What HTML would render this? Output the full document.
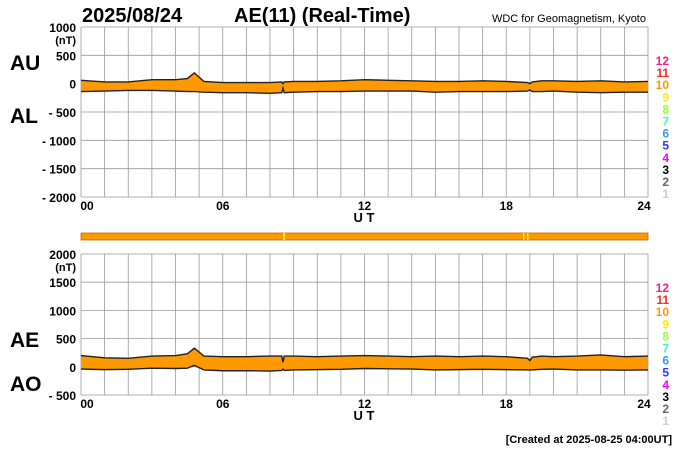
<!DOCTYPE html>
<html><head><meta charset="utf-8">
<style>
body{margin:0;background:#fff;}
svg text{font-family:"Liberation Sans",sans-serif;}
</style></head>
<body>
<svg id="c" width="700" height="450" xmlns="http://www.w3.org/2000/svg">
<text x="82" y="22" font-size="20" font-weight="bold">2025/08/24</text>
<text x="234" y="22" font-size="20" font-weight="bold">AE(11) (Real-Time)</text>
<text x="646" y="22" font-size="11" text-anchor="end">WDC for Geomagnetism, Kyoto</text>
<text x="10" y="70" font-size="21" font-weight="bold">AU</text>
<text x="10" y="123" font-size="21" font-weight="bold">AL</text>
<text x="10" y="347" font-size="21" font-weight="bold">AE</text>
<text x="10" y="391" font-size="21" font-weight="bold">AO</text>
<text x="364" y="222" font-size="13" font-weight="bold" text-anchor="middle">U T</text>
<text x="364" y="420" font-size="13" font-weight="bold" text-anchor="middle">U T</text>
<text x="672" y="443" font-size="11" font-weight="bold" text-anchor="end">[Created at 2025-08-25 04:00UT]</text>
<rect x="81" y="233" width="567" height="7" fill="#ff9900" stroke="#b87000" stroke-width="0.8"/>
<rect x="283" y="233" width="2" height="7" fill="#ffee00"/>
<rect x="523" y="233" width="1.5" height="7" fill="#ffee00"/>
<rect x="527" y="233" width="1.5" height="7" fill="#ffee00"/>
</svg>
<script>
const hours=[0,1,2,3,4,4.5,4.8,5.2,6,7,8,8.5,8.55,8.6,9,10,11,12,13,14,15,16,17,18,18.9,19,19.1,19.5,20,21,22,23,24];
const auValues=[60,30,30,70,70,90,190,40,20,20,20,30,0,30,40,40,50,70,60,50,40,40,50,40,20,0,30,50,50,40,50,30,40];
const alValues=[-140,-130,-120,-120,-130,-140,-140,-150,-160,-160,-170,-160,-80,-160,-150,-140,-140,-130,-130,-130,-150,-140,-140,-140,-130,-110,-140,-140,-130,-150,-160,-150,-150];
const xTicks=["00","06","12","18","24"];
const topTicks=[1000,500,0,-500,-1000,-1500,-2000];
const botTicks=[2000,1500,1000,500,0,-500];
const legendNums=["12","11","10","9","8","7","6","5","4","3","2","1"];
const legendColors=["#ff1a8c","#ff2a1a","#ff9900","#ffee00","#99ff33","#33ffcc","#3399ff","#3333ff","#ff00ff","#000000","#666666","#cccccc"];

const svg=document.getElementById('c');
const NS="http://www.w3.org/2000/svg";
const X0=81,X1=648;
const xs=h=>X0+(X1-X0)*h/24;
function mk(t,a,parent){const e=document.createElementNS(NS,t);for(const k in a)e.setAttribute(k,a[k]);(parent||svg).appendChild(e);return e;}

function panel(y0,y1,vmax,vmin,ticks,upper,lower,name){
  const ys=v=>y0+(vmax-v)/(vmax-vmin)*(y1-y0);
  const g=mk('g',{});
  
  
  for(let h=0;h<=24;h++){
    const l=mk('line',{x1:xs(h),x2:xs(h),y1:y0,y2:y1,stroke:'#999','stroke-width':0.8},g);
    
    
  }
  ticks.forEach(v=>{
    const l=mk('line',{x1:X0,x2:X1,y1:ys(v),y2:ys(v),stroke:'#999','stroke-width':0.8},g);
    
    
    const lbl=v<0?'- '+(-v):String(v);
    const t=mk('text',{x:76,y:ys(v)+5,'font-size':12,'font-weight':'bold','text-anchor':'end'},g);
    t.textContent=lbl;
    
    
  });
  const u=mk('text',{x:76,y:ys(ticks[0])+17,'font-size':11,'font-weight':'bold','text-anchor':'end'},g);
  u.textContent='(nT)';
  
  
  xTicks.forEach((s,i)=>{
    const t=mk('text',{x:xs(i*6)+(i==0?6:i==4?-4:0),y:y1+13,'font-size':12,'font-weight':'bold','text-anchor':'middle'},g);
    t.textContent=s;
    
    
  });
  const up=hours.map((h,i)=>xs(h)+','+ys(upper[i]));
  const lo=hours.map((h,i)=>xs(h)+','+ys(lower[i])).reverse();
  const p=mk('polygon',{points:up.concat(lo).join(' '),fill:'#ff9900',stroke:'none'},g);
  
  
  const l1=mk('polyline',{points:up.join(' '),fill:'none',stroke:'#222','stroke-width':1.4},g);
  
  
  const l2=mk('polyline',{points:lo.join(' '),fill:'none',stroke:'#222','stroke-width':1.4},g);
  
  
  legendNums.forEach((n,i)=>{
    const t=mk('text',{x:669,y:y0+38+i*12.1,'font-size':12,'font-weight':'bold','text-anchor':'end',fill:legendColors[i]},g);
    t.textContent=n;
    
    
  });
}
const aeValues=auValues.map((v,i)=>v-alValues[i]);
const aoValues=auValues.map((v,i)=>(v+alValues[i])/2);
panel(27,197,1000,-2000,topTicks,auValues,alValues,'au-al');
panel(254,395,2000,-500,botTicks,aeValues,aoValues,'ae-ao');
</script>
</body></html>
